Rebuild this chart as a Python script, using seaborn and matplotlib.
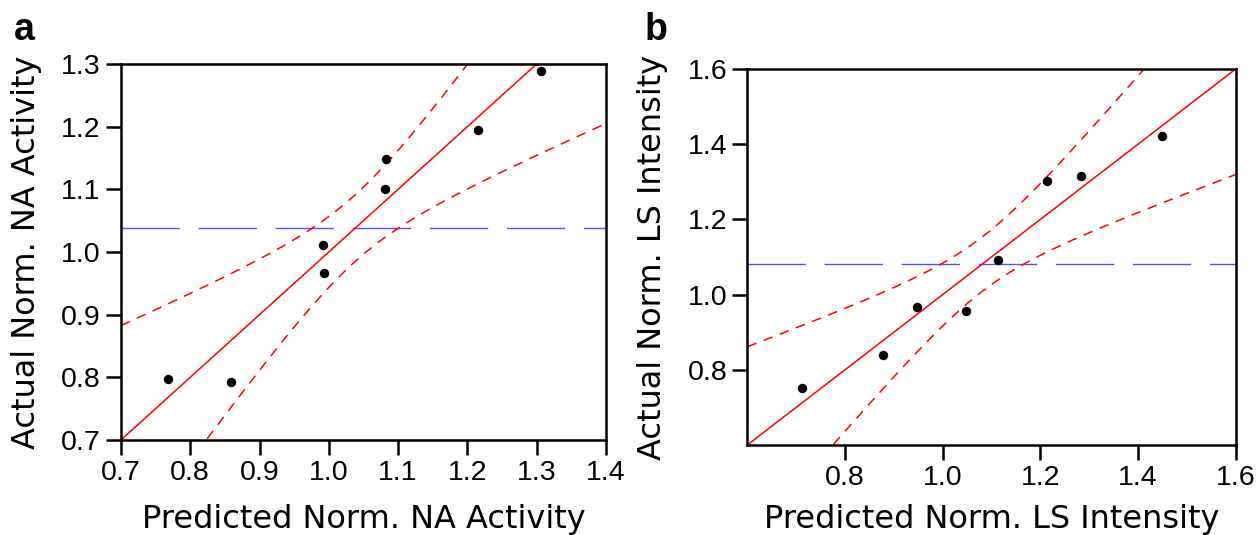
import numpy as np
import pandas as pd
import matplotlib
matplotlib.use("Agg")
import matplotlib.pyplot as plt
import seaborn as sns

# Panel a: neuraminidase activity, actual vs. model prediction
na_predicted = [0.768, 0.859, 0.991, 0.993, 1.081, 1.083, 1.215, 1.306]
na_actual = [0.797, 0.792, 1.011, 0.967, 1.101, 1.148, 1.195, 1.289]
na_xticks = [0.7, 0.8, 0.9, 1.0, 1.1, 1.2, 1.3, 1.4]
na_yticks = [0.7, 0.8, 0.9, 1.0, 1.1, 1.2, 1.3]

# Panel b: light-scattering intensity, actual vs. model prediction
ls_predicted = [0.713, 0.877, 0.948, 1.048, 1.113, 1.214, 1.284, 1.450]
ls_actual = [0.751, 0.840, 0.968, 0.957, 1.091, 1.303, 1.315, 1.421]
ls_xticks = [0.8, 1.0, 1.2, 1.4, 1.6]
ls_yticks = [0.8, 1.0, 1.2, 1.4, 1.6]

# Model: 3 regressors + intercept; 95% critical values for df_error = 4
N_TERMS = 3
T_CRIT = 2.7764      # t(0.975, 4)
F_CRIT = 6.5914      # F(0.95; 3, 4)

sns.set_theme(style="white")
plt.rcParams["font.family"] = ["DejaVu Sans"]
plt.rcParams["lines.scale_dashes"] = False
plt.rcParams["axes.linewidth"] = 1.8

TICK_FONT = "Liberation Sans"


def confidence_curves(pred, act, grid):
    """Whole-model leverage-plot confidence curves around the y = x fit."""
    pred = np.asarray(pred)
    act = np.asarray(act)
    n = len(act)
    dfe = n - N_TERMS - 1
    sse = np.sum((act - pred) ** 2)
    sst = np.sum((act - act.mean()) ** 2)
    ssr = sst - sse
    s2 = sse / dfe
    f_stat = (ssr / N_TERMS) / s2
    z = grid - act.mean()
    half = np.sqrt(s2 * T_CRIT ** 2 / n + (F_CRIT / f_stat) * z ** 2)
    return grid - half, grid + half


def draw_panel(ax, pred, act, xlim, ylim, xticks, yticks, xlabel, ylabel,
               xlabelpad=13):
    grid = np.linspace(xlim[0], xlim[1], 500)
    lower, upper = confidence_curves(pred, act, grid)
    df = pd.DataFrame({"pred": pred, "act": act})

    ax.axhline(np.mean(act), color="#5252ee", lw=1.0,
               linestyle=(0, (42, 13.5)), zorder=1)
    sns.lineplot(x=grid, y=grid, color="red", lw=1.1, ax=ax,
                 estimator=None, sort=False, zorder=2)
    for band in (lower, upper):
        sns.lineplot(x=grid, y=band, color="red", lw=1.1, ax=ax,
                     estimator=None, sort=False, zorder=2,
                     linestyle=(0, (7, 5.5)))
    sns.scatterplot(data=df, x="pred", y="act", color="black", s=46,
                    linewidth=0, ax=ax, zorder=5)

    ax.set_xlim(*xlim)
    ax.set_ylim(*ylim)
    ax.set_xticks(xticks)
    ax.set_yticks(yticks)
    ax.set_xticklabels([f"{v:.1f}" for v in xticks], family=TICK_FONT, fontsize=20.5)
    ax.set_yticklabels([f"{v:.1f}" for v in yticks], family=TICK_FONT, fontsize=20.5)
    ax.tick_params(axis="both", direction="out", length=10.5, width=1.8,
                   color="black", pad=4, labelcolor="black",
                   bottom=True, left=True)
    for sp in ax.spines.values():
        sp.set_visible(True)
        sp.set_color("black")
        sp.set_linewidth(1.8)
    ax.set_xlabel(xlabel, fontsize=23, labelpad=xlabelpad, color="black")
    ax.set_ylabel(ylabel, fontsize=23, labelpad=14, color="black")
    ax.grid(False)


fig = plt.figure(figsize=(12.6, 5.35), dpi=100)
ax_a = fig.add_axes([0.0960, 0.1776, 0.3849, 0.7028])
ax_b = fig.add_axes([0.5931, 0.1682, 0.3876, 0.7028])

draw_panel(ax_a, na_predicted, na_actual, (0.7, 1.4), (0.7, 1.3),
           na_xticks, na_yticks,
           "Predicted Norm. NA Activity", "Actual Norm. NA Activity")
draw_panel(ax_b, ls_predicted, ls_actual, (0.6, 1.6), (0.6, 1.6),
           ls_xticks, ls_yticks,
           "Predicted Norm. LS Intensity", "Actual Norm. LS Intensity",
           xlabelpad=9)

fig.text(14 / 1260, 1 - 40 / 535, "a", family=TICK_FONT, fontweight="bold",
         fontsize=27, ha="left", va="baseline", color="black")
fig.text(645 / 1260, 1 - 40 / 535, "b", family=TICK_FONT, fontweight="bold",
         fontsize=27, ha="left", va="baseline", color="black")

fig.savefig("out.png", dpi=100, facecolor="white")
